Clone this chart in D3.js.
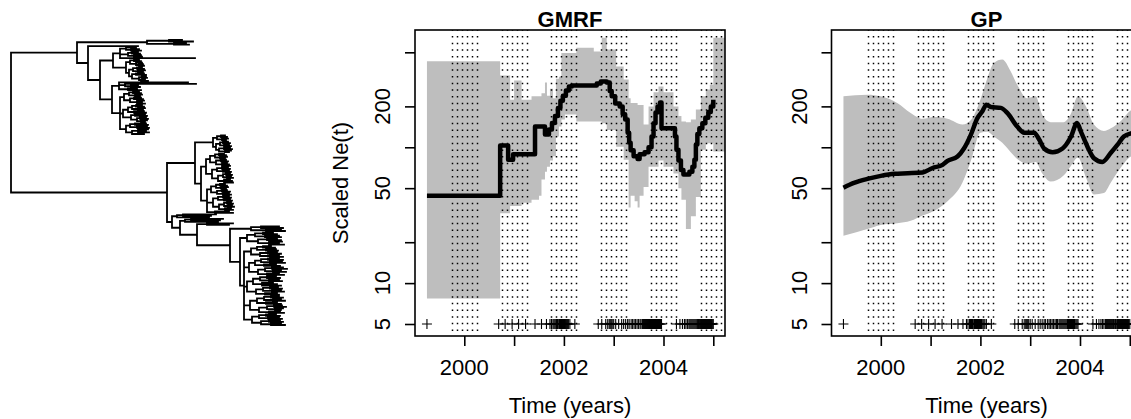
<!DOCTYPE html>
<html>
<head>
<meta charset="utf-8">
<script src="https://cdn.jsdelivr.net/npm/d3@7"></script>
<style>
  body { margin: 0; background: #fff; }
  svg { display: block; }
  text { font-family: "Liberation Sans", Arial, Helvetica, sans-serif; fill: #000; }
</style>
</head>
<body>
<svg width="1131" height="419"></svg>
<script>
// ---- data ----
// tree: internal node = [depth, ...children], leaf = depth
const cladeA = [66,
  [136, [158, 171, 182], [163, 175, 178]],
  [77,
    127,
    [89,
      [102,
        [109, [115, 125, [120, 128, 130]], [117, [121, 127, 129], [123, 130, 131]], 184],
        [115, [119, [123, 128, 130], [125, 131, [128, 132, 133]]],
              [118, [122, [126, 131, 133], [127, 134, 132]], [121, [125, 133, 135], [128, [131, 135, 136], [130, 134, 137]]]]]
      ],
      [101,
        [108, 177, [114, 185, [120, 127, 129]], [117, 126, 130]],
        [109,
          [113, [118, [122, 128, 130], [124, 131, 129]], [119, [123, 130, 132], [126, 133, 131, 134]]],
          [112, [117, [121, [125, 131, 133], [127, 134, 132]], [123, 133, 135]], [120, [124, 134, 136], [126, [129, 135, 137], [130, 136, 134]]]],
          [115, [119, [124, 135, 137], [126, 136, 138]], [121, [127, 137, 135, 138], 133]]
        ]
      ]
    ]
  ]
];
const cladeB = [156,
  [184,
    [202, [206, [210, 214, 216], [211, 217, 215]], [205, [209, [212, 217, 219], [213, 218, 220]], [208, [213, 219, 221], [214, 220, 218]]]],
    [190,
      [195,
        [199, [204, [208, 213, 215], [209, 216, 214]], [205, [210, 215, 217], [211, 216, 218, 219]]],
        [201, [206, [211, 217, 219], [212, 218, 220]], [207, [212, [215, 219, 221], [216, 220, 222]], [213, 219, 221, 222]]]
      ],
      [196,
        [200, [205, [209, 214, 216], [210, 217, 215]], [206, [211, 216, 219], [212, 218, 220]]],
        [202, [207, [212, 218, 220], [213, 219, 221]], [208, [213, [216, 220, 222], [217, 221, 223]], [214, 220, 222]]],
        [204, 218, 222]
      ]
    ]
  ],
  [161,
    [166, [172, 205, 200], 198],
    [169,
      [174, [180, 212, 209], 207],
      [186,
        [196, 222, 218],
        [219,
          [240, [250, 268, 272], [255, 270, 274]],
          [229,
            [236, [244, [252, 262, 266], [254, 268, 270]], [247, [256, 266, 270], [258, 271, 268, 273]]],
            [233,
              [240, [246, [252, 260, 264], [255, 265, 267]], [249, [257, 266, 270], [259, 268, 272]]],
              [238, [244, [250, [257, 268, 272], [259, 271, 274]], [253, 265, 269]], [247, [254, [261, 272, 276], [262, 270, 275]], [256, 268, 273]]],
              [236, [242, [249, [256, 265, 269], [258, 268, 271]], [251, 262, 266, 270]], [245, [252, [259, 267, 271], [261, 270, 273]], [254, 266, 268]]],
              [239, [246, [253, [260, 268, 272], [262, 270, 274]], [255, 266, 270]], [248, [256, [263, 271, 275], [264, 272, 270]], [258, 269, 273]]],
              [241, [248, [255, 265, 269], [257, 268, 271]], [250, [258, 269, 272], [260, 270, 274]]]
            ]
          ]
        ]
      ]
    ]
  ]
];
const treeData = [0, cladeA, cladeB];

// GMRF (piecewise constant)
const gmrfLineTime = [1999.25, 2000.72, 2000.88, 2000.98, 2001.42, 2001.62, 2001.70, 2001.76, 2001.82, 2001.88,
  2001.93, 2001.98, 2002.04, 2002.10, 2002.16, 2002.66, 2002.74, 2002.86, 2002.92, 2002.96,
  2003.03, 2003.12, 2003.18, 2003.23, 2003.28, 2003.31, 2003.34, 2003.40, 2003.48, 2003.52,
  2003.62, 2003.70, 2003.76, 2003.80, 2003.84, 2003.88, 2003.93, 2003.96, 2004.23, 2004.26,
  2004.30, 2004.35, 2004.40, 2004.52, 2004.58, 2004.62, 2004.65, 2004.68, 2004.72, 2004.78,
  2004.84, 2004.90, 2004.95, 2005.00];
const gmrfLineValue = [44, 103, 81, 89, 142, 124, 135, 151, 170, 195,
  220, 240, 262, 280, 285, 295, 305, 300, 260, 237,
  210, 200, 175, 160, 128, 108, 95, 86, 82, 89,
  92, 100, 120, 150, 180, 200, 214, 138, 120, 96,
  80, 68, 63, 66, 72, 81, 105, 125, 138, 150,
  165, 182, 200, 224];
const gmrfBandTime = [1999.25, 2000.72, 2000.92, 2001.00, 2001.15, 2001.35, 2001.50, 2001.55, 2001.62, 2001.66,
  2001.72, 2001.78, 2001.84, 2001.90, 2001.95, 2002.02, 2002.25, 2002.60, 2002.76, 2002.86,
  2003.05, 2003.20, 2003.30, 2003.34, 2003.42, 2003.48, 2003.52, 2003.60, 2003.70, 2003.80,
  2003.90, 2004.00, 2004.20, 2004.30, 2004.36, 2004.45, 2004.55, 2004.65, 2004.75, 2004.85,
  2004.93, 2005.00, 2005.30];
const gmrfLower = [7.7, 32.7, 37, 37, 39, 41, 44, 58, 66, 72,
  80, 86, 120, 142, 160, 174, 155, 155, 150, 134,
  101, 81, 36, 44, 40, 36, 44, 51, 72, 72,
  80, 72, 64, 50, 41, 25, 31, 43, 96, 107,
  107, 93, 93];
const gmrfUpper = [429, 337, 224, 310, 224, 237, 237, 250, 300, 240,
  270, 230, 320, 330, 495, 495, 540, 508, 640, 524,
  394, 316, 230, 212, 212, 205, 205, 147, 200, 254,
  280, 254, 200, 170, 155, 153, 160, 190, 237, 266,
  289, 640, 640];

// GP (smooth)
const gpLineTime = [1999.25, 1999.46, 1999.73, 2000.0, 2000.27, 2000.54, 2000.84, 2001.04, 2001.24, 2001.34,
  2001.54, 2001.67, 2001.81, 2001.94, 2002.04, 2002.12, 2002.21, 2002.41, 2002.54, 2002.74,
  2002.88, 2003.08, 2003.18, 2003.28, 2003.45, 2003.65, 2003.82, 2003.94, 2004.02, 2004.15,
  2004.28, 2004.45, 2004.62, 2004.75, 2004.88, 2005.04, 2005.2];
const gpLineValue = [50.4, 54.6, 58.5, 61.6, 63.8, 64.4, 65.3, 70.4, 74.3, 79.3,
  85.5, 98, 124, 164, 184, 206, 198, 195, 179, 142,
  128, 128, 114, 98, 92, 98, 120, 151, 130, 101,
  83, 78, 91, 104, 120, 127, 130];
const gpBandTime = [1999.25, 1999.73, 2000.0, 2000.33, 2000.6, 2000.84, 2001.07, 2001.34, 2001.64, 2001.81,
  2002.0, 2002.14, 2002.27, 2002.44, 2002.61, 2002.74, 2002.94, 2003.11, 2003.24, 2003.41,
  2003.67, 2003.81, 2003.96, 2004.12, 2004.28, 2004.48, 2004.62, 2004.81, 2005.04, 2005.2];
const gpLower = [22.3, 25, 26.8, 27.6, 28.8, 31.5, 34, 40, 55, 80,
  128, 130, 120, 108, 92, 82, 76, 78, 64.4, 56,
  62, 72.3, 84, 60, 45, 46, 55, 70, 86, 88];
const gpUpper = [237, 244, 237, 212, 179, 162, 167, 162, 147, 159,
  224, 324, 418, 443, 362, 289, 230, 237, 174, 153,
  153, 174, 237, 200, 147, 132, 138, 155, 189, 195];

// sampling times (+ marks at Ne = 5)
const sampleTimes = [1999.25,
  2000.69, 2000.82, 2000.96, 2001.09, 2001.23,
  2001.42, 2001.55, 2001.65, 2001.72, 2001.75, 2001.78, 2001.80, 2001.82, 2001.84, 2001.85, 2001.87, 2001.88,
  2001.90, 2001.91, 2001.92, 2001.93, 2001.94, 2001.95, 2001.96, 2001.97, 2001.98, 2001.99, 2002.00, 2002.01,
  2002.02, 2002.03, 2002.05, 2002.07, 2002.09, 2002.12, 2002.22,
  2002.69, 2002.76, 2002.84, 2002.88, 2002.91, 2002.93, 2002.95, 2002.97, 2003.00, 2003.04, 2003.10, 2003.16,
  2003.20, 2003.24, 2003.28, 2003.31, 2003.35, 2003.38, 2003.41, 2003.44, 2003.47, 2003.50, 2003.53, 2003.55,
  2003.58, 2003.60, 2003.62, 2003.64, 2003.66, 2003.68, 2003.70, 2003.72, 2003.74, 2003.75, 2003.76, 2003.77,
  2003.78, 2003.79, 2003.80, 2003.81, 2003.82, 2003.83, 2003.84, 2003.85, 2003.86, 2003.87, 2003.88, 2003.89,
  2003.90, 2003.92, 2003.94, 2003.96,
  2004.26, 2004.33, 2004.38, 2004.42, 2004.45, 2004.48, 2004.51, 2004.53, 2004.55, 2004.57, 2004.59, 2004.61,
  2004.63, 2004.65, 2004.67, 2004.68, 2004.70, 2004.71, 2004.72, 2004.74, 2004.75, 2004.76, 2004.77, 2004.78,
  2004.79, 2004.80, 2004.81, 2004.82, 2004.83, 2004.84, 2004.85, 2004.86, 2004.87, 2004.88, 2004.89, 2004.90,
  2004.91, 2004.92, 2004.93, 2004.94, 2004.95, 2004.96, 2004.97, 2004.98, 2005.00];

// dotted season lines around each new year
const seasonYears = [2000, 2001, 2002, 2003, 2004, 2005];
const seasonOffsets = [-0.25, -0.15, -0.05, 0.05, 0.15, 0.25];

const yTicks = [5, 10, 20, 50, 100, 200, 500];
const yLabels = [5, 10, 50, 200];
const xTicks = [2000, 2001, 2002, 2003, 2004, 2005];
const xLabels = [2000, 2002, 2004];

// ---- drawing ----
const svg = d3.select("svg");
const plotTop = 30, plotBottom = 336;
const y = d3.scaleLog().domain([4.08, 730]).range([plotBottom, plotTop]);

// phylogenetic tree
const root = d3.hierarchy(treeData, d => Array.isArray(d) ? d.slice(1) : null);
const leaves = root.leaves();
const xTree = d3.scaleLinear().domain([0, 276]).range([11, 287]);
const yTree = d3.scaleLinear().domain([0, leaves.length - 1]).range([40, 325]);
leaves.forEach((d, i) => d.ty = yTree(i));
root.eachAfter(d => {
  d.tx = xTree(Array.isArray(d.data) ? d.data[0] : d.data);
  if (d.children) d.ty = (d.children[0].ty + d.children[d.children.length - 1].ty) / 2;
});
let treePath = "";
root.each(d => {
  if (d.parent) treePath += `M${d.parent.tx},${d.ty}H${d.tx}`;
  if (d.children) treePath += `M${d.tx},${d.children[0].ty}V${d.children[d.children.length - 1].ty}`;
});
svg.append("path")
  .attr("d", treePath)
  .attr("fill", "none")
  .attr("stroke", "#000")
  .attr("stroke-width", 1.8)
  .attr("stroke-linecap", "square");

function zip(t, a, b) {
  return t.map((v, i) => ({ t: v, a: a[i], b: b ? b[i] : null }));
}

function panel(id, x0, x1, title, band, line, curve, ylab) {
  const xs = d3.scaleLinear().domain([1999.01, 2005.235]).range([x0, x1]);
  const g = svg.append("g");

  g.append("clipPath").attr("id", id)
    .append("rect").attr("x", x0).attr("y", plotTop).attr("width", x1 - x0).attr("height", plotBottom - plotTop);
  const inner = g.append("g").attr("clip-path", `url(#${id})`);

  // credible band
  inner.append("path")
    .datum(band)
    .attr("fill", "#bebebe")
    .attr("d", d3.area().x(d => xs(d.t)).y0(d => y(d.a)).y1(d => y(d.b)).curve(curve));

  // dotted season lines (snapped to pixel centres so dots stay crisp)
  const seasonX = seasonYears.flatMap(yr => seasonOffsets.map(o => yr + o));
  inner.selectAll("line.season")
    .data(seasonX)
    .join("line")
    .attr("class", "season")
    .attr("x1", d => Math.round(xs(d)) + 0.5).attr("x2", d => Math.round(xs(d)) + 0.5)
    .attr("y1", plotTop).attr("y2", plotBottom)
    .attr("stroke", "#000")
    .attr("stroke-width", 1.5)
    .attr("stroke-dasharray", "1.5 5.17")
    .attr("stroke-dashoffset", -6);

  // posterior median
  inner.append("path")
    .datum(line)
    .attr("fill", "none")
    .attr("stroke", "#000")
    .attr("stroke-width", 4.5)
    .attr("stroke-linejoin", "round")
    .attr("d", d3.line().x(d => xs(d.t)).y(d => y(d.a)).curve(curve));

  // sampling times
  inner.selectAll("path.samp")
    .data(sampleTimes)
    .join("path")
    .attr("class", "samp")
    .attr("transform", d => `translate(${xs(d)},${y(5)})`)
    .attr("d", "M-5,0H5M0,-5V5")
    .attr("stroke", "#000")
    .attr("stroke-width", 1.1)
    .attr("fill", "none");

  // box
  g.append("rect")
    .attr("x", x0).attr("y", plotTop).attr("width", x1 - x0).attr("height", plotBottom - plotTop)
    .attr("fill", "none").attr("stroke", "#000").attr("stroke-width", 1.6);

  // axes
  const ax = g.append("g").attr("transform", `translate(0,${plotBottom})`)
    .call(d3.axisBottom(xs).tickValues(xTicks).tickSize(10).tickSizeOuter(0).tickFormat(""));
  const ay = g.append("g").attr("transform", `translate(${x0},0)`)
    .call(d3.axisLeft(y).tickValues(yTicks).tickSize(10).tickSizeOuter(0).tickFormat(""));
  [ax, ay].forEach(a => {
    a.select(".domain").remove();
    a.selectAll("line").attr("stroke", "#000").attr("stroke-width", 1.6);
  });

  g.selectAll("text.xl")
    .data(xLabels)
    .join("text")
    .attr("class", "xl")
    .attr("x", d => xs(d)).attr("y", 375)
    .attr("text-anchor", "middle")
    .attr("font-size", 22)
    .text(d => d);

  g.selectAll("text.yl")
    .data(yLabels)
    .join("text")
    .attr("class", "yl")
    .attr("transform", d => `translate(${x0 - 25},${y(d)}) rotate(-90)`)
    .attr("text-anchor", "middle")
    .attr("font-size", 22)
    .text(d => d);

  g.append("text")
    .attr("x", (x0 + x1) / 2).attr("y", 27)
    .attr("text-anchor", "middle")
    .attr("font-size", 22)
    .attr("font-weight", "bold")
    .text(title);

  g.append("text")
    .attr("x", (x0 + x1) / 2).attr("y", 413)
    .attr("text-anchor", "middle")
    .attr("font-size", 22)
    .text("Time (years)");

  if (ylab) {
    g.append("text")
      .attr("transform", `translate(${x0 - 67},${(plotTop + plotBottom) / 2}) rotate(-90)`)
      .attr("text-anchor", "middle")
      .attr("font-size", 22)
      .text(ylab);
  }
}

panel("clipGmrf", 415, 725, "GMRF",
  zip(gmrfBandTime, gmrfLower, gmrfUpper),
  zip(gmrfLineTime, gmrfLineValue),
  d3.curveStepAfter, "Scaled Ne(t)");

panel("clipGp", 831.5, 1141.5, "GP",
  zip(gpBandTime, gpLower, gpUpper),
  zip(gpLineTime, gpLineValue),
  d3.curveMonotoneX, null);
</script>
</body>
</html>
